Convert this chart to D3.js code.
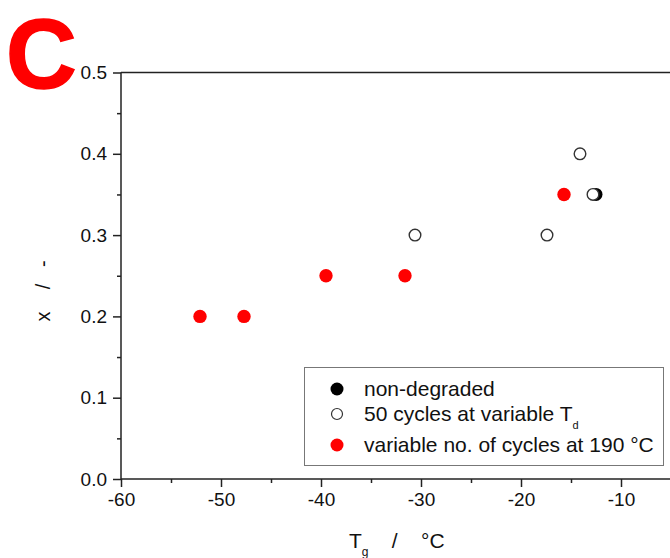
<!DOCTYPE html>
<html>
<head>
<meta charset="UTF-8">
<script src="https://cdn.jsdelivr.net/npm/d3@7"></script>
<style>
body{
  margin:0;
  background-color:#fff;
}
text{
  font-family: "Liberation Sans", Arial, sans-serif;
}
</style>
</head>
<body>
<script>
// x fraction vs glass transition temperature, panel C

var width = 670
var height = 558

// red: variable no. of cycles at 190 C
var redTg = [-52.1, -47.7, -39.5, -31.6, -15.7]
var redX  = [0.20, 0.20, 0.25, 0.25, 0.35]

// open: 50 cycles at variable Td
var openTg = [-30.6, -17.4, -14.1, -12.8]
var openX  = [0.30, 0.30, 0.40, 0.35]

// black: non-degraded
var blackTg = [-12.5]
var blackX  = [0.35]

var xTicks = [-60, -50, -40, -30, -20, -10]
var yTicks = [0.0, 0.1, 0.2, 0.3, 0.4, 0.5]

var legendLabels = ["non-degraded", "50 cycles at variable T", "variable no. of cycles at 190 °C"]

var x = d3.scaleLinear().domain([-60, 0]).range([121, 721])
var y = d3.scaleLinear().domain([0, 0.5]).range([479, 72.5])

var svg = d3.select('body')
    .append('svg')
    .attr('width', width)
    .attr('height', height)

// big panel letter
svg.append("text")
    .attr("x", 6)
    .attr("y", 88)
    .attr("font-size", 98)
    .attr("font-weight", "bold")
    .attr("fill", "#ff0000")
    .attr("stroke", "#ff0000")
    .attr("stroke-width", 1.5)
    .text("C")

// top frame line
svg.append("line")
    .attr("x1", x(-60))
    .attr("x2", width)
    .attr("y1", y(0.5))
    .attr("y2", y(0.5))
    .attr("stroke", "#222")
    .attr("stroke-width", 1.5)

var xAxis = svg.append("g")
    .attr("transform", "translate(0," + y(0) + ")")
    .call(d3.axisBottom(x).tickValues(xTicks).tickSize(8).tickPadding(6).tickFormat(d => String(d)))
xAxis.selectAll("text").attr("font-size", 19).attr("fill", "#111").attr("font-family", null)

var xMinor = svg.append("g")
    .attr("transform", "translate(0," + y(0) + ")")
    .call(d3.axisBottom(x).tickValues(d3.range(-55, 0, 10)).tickSize(4).tickFormat(""))

var yAxis = svg.append("g")
    .attr("transform", "translate(" + x(-60) + ",0)")
    .call(d3.axisLeft(y).tickValues(yTicks).tickSize(8).tickPadding(6).tickFormat(d3.format(".1f")))
yAxis.selectAll("text").attr("font-size", 19).attr("fill", "#111").attr("font-family", null)

var yMinor = svg.append("g")
    .attr("transform", "translate(" + x(-60) + ",0)")
    .call(d3.axisLeft(y).tickValues([0.05, 0.15, 0.25, 0.35, 0.45]).tickSize(4).tickFormat(""))

svg.selectAll(".domain").attr("stroke", "#222").attr("stroke-width", 1.5)
svg.selectAll(".tick line").attr("stroke", "#222").attr("stroke-width", 1.5)
xAxis.select(".domain").attr("d", "M" + x(-60) + ",0H" + width)
xMinor.select(".domain").remove()
yMinor.select(".domain").remove()
yAxis.select(".domain").attr("d", "M0," + y(0.5) + "V" + y(0))

// axis titles
svg.append("text")
    .attr("transform", "translate(50,291) rotate(-90)")
    .attr("text-anchor", "middle")
    .attr("font-size", 20)
    .attr("fill", "#111")
    .style("white-space", "pre")
    .text("x    /   -")

var xt = svg.append("text")
    .attr("x", 349)
    .attr("y", 548)
    .attr("font-size", 21)
    .attr("fill", "#111")
    .style("white-space", "pre")
xt.append("tspan").text("T")
xt.append("tspan").attr("font-size", 12).attr("dy", 8).text("g")
xt.append("tspan").attr("dy", -8).text("    /    °C")

// markers
svg.selectAll(".black")
    .data(blackTg)
    .enter().append("circle")
    .attr("cx", d => x(d))
    .attr("cy", (d, i) => y(blackX[i]))
    .attr("r", 6.5)
    .attr("fill", "#000")

svg.selectAll(".open")
    .data(openTg)
    .enter().append("circle")
    .attr("cx", d => x(d))
    .attr("cy", (d, i) => y(openX[i]))
    .attr("r", 5.8)
    .attr("fill", "#fff")
    .attr("stroke", "#333")
    .attr("stroke-width", 1.4)

svg.selectAll(".red")
    .data(redTg)
    .enter().append("circle")
    .attr("cx", d => x(d))
    .attr("cy", (d, i) => y(redX[i]))
    .attr("r", 6.7)
    .attr("fill", "#ff0000")

// legend
var lg = svg.append("g")

lg.append("rect")
    .attr("x", 304.5)
    .attr("y", 367.5)
    .attr("width", 359)
    .attr("height", 98)
    .attr("fill", "#fff")
    .attr("stroke", "#777")
    .attr("stroke-width", 1)

var rowY = [389, 414, 445]

lg.append("circle").attr("cx", 337).attr("cy", rowY[0]).attr("r", 6.5).attr("fill", "#000")
lg.append("circle").attr("cx", 337).attr("cy", rowY[1]).attr("r", 5.5).attr("fill", "#fff")
    .attr("stroke", "#333").attr("stroke-width", 1.2)
lg.append("circle").attr("cx", 337).attr("cy", rowY[2]).attr("r", 6.5).attr("fill", "#ff0000")

legendLabels.forEach(function(t, i){
  var tx = lg.append("text")
      .attr("x", 364)
      .attr("y", rowY[i] + 7)
      .attr("font-size", 21)
      .attr("fill", "#111")
      .text(t)
  if (i == 1){
    tx.append("tspan").attr("font-size", 11).attr("dy", 8).text("d")
  }
})
</script>
</body>
</html>
